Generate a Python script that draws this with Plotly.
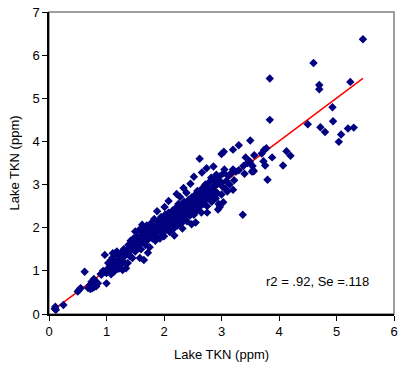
import plotly.graph_objects as go

obs_x = [0.10,0.11,0.12,0.25,0.50,0.53,0.55,0.62,0.68,0.71,0.74,0.76,0.78,0.80,0.82,0.82,0.85,0.77,0.79,0.72,
0.90,0.91,0.94,0.96,0.97,1.00,1.00,1.02,1.03,1.05,1.06,1.08,1.08,1.10,1.10,1.11,1.12,1.13,1.15,1.15,1.17,1.18,1.20,1.20,1.22,1.23,1.25,1.25,1.27,1.28,1.30,1.30,1.32,1.34,1.35,1.37,1.37,1.38,1.40,1.40,1.42,1.43,1.45,1.45,1.47,1.48,1.49,1.50,1.50,
1.52,1.53,1.55,1.55,1.57,1.58,1.60,1.60,1.62,1.62,1.63,1.65,1.65,1.67,1.68,1.70,1.70,1.72,1.73,1.75,1.75,1.77,1.78,1.80,1.80,1.82,1.83,1.85,1.85,1.87,1.88,1.90,1.90,1.92,1.93,1.95,1.95,1.97,1.98,
2.00,2.00,2.01,2.02,2.03,2.05,2.05,2.07,2.08,2.10,2.10,2.12,2.13,2.15,2.15,2.17,2.18,2.20,2.20,2.22,2.23,2.25,2.25,2.27,2.28,2.28,2.30,2.30,2.32,2.33,2.35,2.35,2.37,2.38,2.39,2.40,2.40,2.42,2.43,2.45,2.45,2.47,2.48,
2.50,2.50,2.52,2.53,2.55,2.55,2.57,2.58,2.60,2.60,2.62,2.62,2.63,2.65,2.65,2.67,2.68,2.70,2.70,2.72,2.73,2.75,2.75,2.77,2.78,2.80,2.80,2.82,2.83,2.85,2.85,2.87,2.88,2.90,2.91,2.92,2.93,2.94,2.95,2.97,2.97,
3.00,3.00,3.00,3.02,3.03,3.04,3.04,3.05,3.07,3.08,3.10,3.12,3.14,3.17,3.20,3.20,3.20,3.22,3.25,3.30,3.30,3.37,3.38,3.40,3.42,3.45,3.49,3.50,3.50,3.53,3.55,3.54,3.56,3.57,3.70,3.73,3.74,3.76,3.78,3.80,3.84,3.84,3.88,
4.07,4.13,4.20,4.50,4.60,4.70,4.70,4.72,4.80,4.93,4.94,5.04,5.08,5.20,5.24,5.30,5.46,
1.88,2.08,2.22,2.34,2.46,2.52,2.66,2.74,2.86,2.32,2.55,2.75,2.48,2.18,1.72,1.58,1.28,2.95]

obs_y = [0.12,0.17,0.10,0.21,0.52,0.57,0.60,0.98,0.60,0.67,0.75,0.60,0.81,0.70,0.75,0.64,0.71,0.69,0.63,0.58,
0.93,0.91,1.00,0.98,1.37,0.71,0.95,1.05,1.18,1.00,1.10,0.92,1.25,1.05,1.30,1.41,1.15,0.98,1.20,1.40,1.10,1.45,1.25,1.05,1.35,1.06,1.15,1.40,1.28,1.41,1.20,1.50,1.35,1.06,1.45,1.18,1.45,1.60,1.35,1.55,1.70,1.48,1.62,1.30,1.75,1.55,1.68,1.91,1.45,
1.65,1.80,1.55,1.70,1.95,1.62,1.75,1.50,2.07,1.85,1.68,1.25,1.95,1.78,1.60,1.88,2.05,1.72,1.95,1.82,1.55,2.10,1.90,1.75,2.00,1.85,2.20,1.95,1.70,2.05,1.80,2.15,1.92,2.00,1.75,2.25,2.08,1.88,2.15,
2.00,1.80,2.48,2.30,2.10,1.95,2.22,2.05,2.35,2.15,1.90,2.28,2.05,2.40,2.18,1.98,2.30,2.12,2.45,2.25,2.05,2.35,2.55,2.18,2.71,2.40,2.28,2.10,2.50,2.35,2.22,2.60,2.42,2.30,2.81,2.50,2.15,2.38,2.65,2.45,2.28,2.55,2.70,
2.40,2.60,2.30,2.75,2.52,2.65,2.40,2.85,2.58,2.70,3.60,2.48,2.80,2.62,2.35,2.92,2.70,2.55,2.82,3.00,2.65,2.78,2.50,2.90,3.05,2.70,2.85,3.16,2.60,2.95,2.75,3.10,2.85,2.68,3.23,3.00,2.80,2.42,3.10,3.19,2.48,
3.04,2.77,3.71,2.95,2.59,3.76,3.27,3.35,2.90,3.08,2.84,3.20,3.00,3.27,3.35,2.88,3.81,3.10,3.30,3.91,3.33,2.30,3.43,3.25,3.63,3.50,3.54,3.49,4.02,3.30,3.33,3.43,3.31,3.68,3.72,3.54,3.80,3.44,3.84,3.11,5.46,4.50,3.63,
3.44,3.77,3.67,4.40,5.82,5.31,5.21,4.33,4.22,4.79,4.47,3.99,4.16,4.30,5.38,4.32,6.37,
2.38,2.62,2.78,2.92,3.02,3.18,3.28,3.38,3.42,1.98,2.12,2.35,2.08,1.82,1.42,1.30,1.02,2.55]

fit_x = [0.10, 5.46]
fit_y = [0.12, 5.46]

x_ticks = [0, 1, 2, 3, 4, 5, 6]
y_ticks = [0, 1, 2, 3, 4, 5, 6, 7]

fig = go.Figure()
fig.add_trace(go.Scatter(x=fit_x, y=fit_y, mode="lines",
                         line=dict(color="#ff0000", width=1.5), hoverinfo="skip"))
fig.add_trace(go.Scatter(x=obs_x, y=obs_y, mode="markers",
                         marker=dict(symbol="diamond", size=6.5, color="#000080",
                                     line=dict(width=0))))

font = dict(family="Liberation Sans, Arial, sans-serif", size=13, color="#000000")
fig.update_layout(
    width=403, height=371,
    margin=dict(l=49, r=5, t=12, b=57),
    paper_bgcolor="white", plot_bgcolor="white",
    showlegend=False, font=font,
    xaxis=dict(range=[0, 6], tickvals=x_ticks, showgrid=False, zeroline=False,
               showline=True, linecolor="black", linewidth=1.5,
               ticks="outside", ticklen=5, tickcolor="black",
               title=dict(text="Lake TKN (ppm)", font=font, standoff=12)),
    yaxis=dict(range=[0, 7], tickvals=y_ticks, showgrid=False, zeroline=False,
               showline=True, linecolor="black", linewidth=1.5,
               ticks="outside", ticklen=5, tickcolor="black",
               title=dict(text="Lake TKN (ppm)", font=font, standoff=10)),
    shapes=[dict(type="rect", xref="paper", yref="paper", x0=0, y0=0, x1=1, y1=1,
                 line=dict(color="#808080", width=1.5), layer="below")],
    annotations=[dict(text="r2 = .92, Se =.118", xref="x", yref="y", x=5.6, y=0.75,
                      xanchor="right", yanchor="middle", showarrow=False, font=font)],
)

fig.write_html("out.html")
